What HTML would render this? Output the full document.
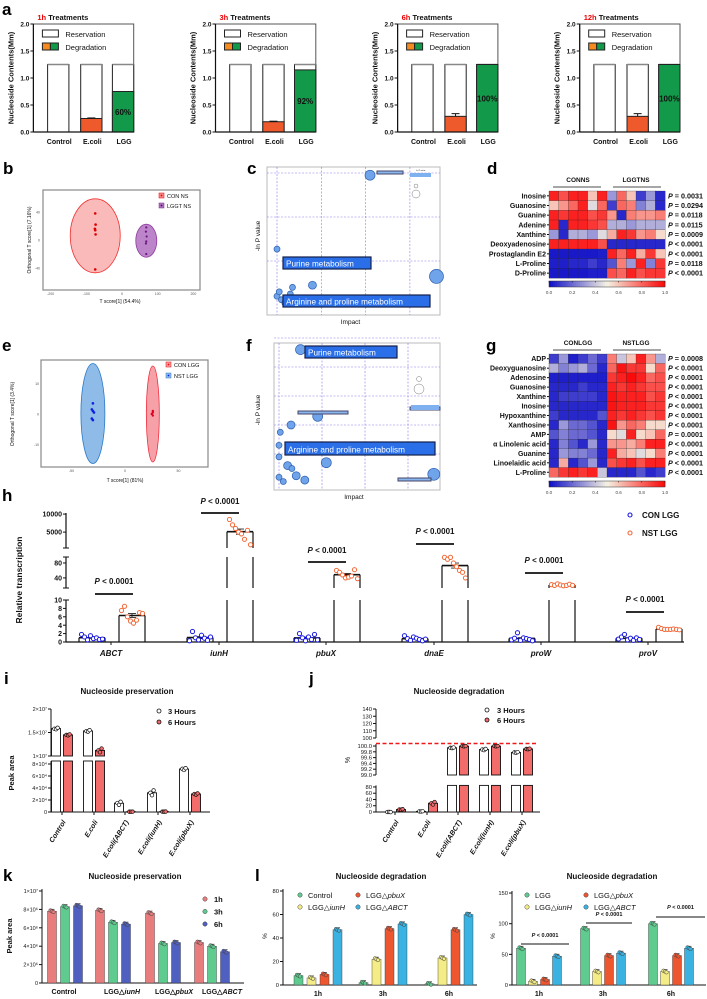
<!DOCTYPE html>
<html><head><meta charset="utf-8">
<style>
html,body{margin:0;padding:0;background:#fff;}
svg{display:block;font-family:"Liberation Sans Narrow","Liberation Sans",sans-serif;}
.pl{font-size:17px;font-weight:bold;font-family:"Liberation Sans",sans-serif;}
</style></head>
<body>
<svg id="fig" width="707" height="999" viewBox="0 0 707 999">
<rect width="707" height="999" fill="#fff"/>
<text class="pl" x="2" y="15">a</text>
<text class="pl" x="3" y="174">b</text>
<text class="pl" x="247" y="174">c</text>
<text class="pl" x="487" y="174">d</text>
<text class="pl" x="2" y="351">e</text>
<text class="pl" x="246" y="351">f</text>
<text class="pl" x="486" y="351">g</text>
<text class="pl" x="2" y="501">h</text>
<text class="pl" x="4" y="684">i</text>
<text class="pl" x="309" y="684">j</text>
<text class="pl" x="3" y="881">k</text>
<text class="pl" x="255" y="881">l</text>
</svg>
<script>
const NS='http://www.w3.org/2000/svg';
const svg=document.getElementById('fig');
function mk(tag,a,p){const e=document.createElementNS(NS,tag);for(const k in a)e.setAttribute(k,a[k]);(p||svg).appendChild(e);return e;}
function T(x,y,s,o){o=o||{};const t=mk('text',{x:x,y:y,'font-size':o.fs||7,'text-anchor':o.a||'start','font-weight':o.w||'bold',fill:o.f||'#111','font-style':o.i?'italic':'normal'});if(o.r)t.setAttribute('transform','rotate('+o.r+' '+x+' '+y+')');t.textContent=s;return t;}
function L(x1,y1,x2,y2,o){o=o||{};return mk('line',{x1:x1,y1:y1,x2:x2,y2:y2,stroke:o.c||'#111','stroke-width':o.w||1,'stroke-dasharray':o.d||'none'});}
function R(x,y,w,h,f,s,sw){return mk('rect',{x:x,y:y,width:w,height:h,fill:f,stroke:s||'none','stroke-width':sw||1});}
function C(x,y,r,f,s,sw){return mk('circle',{cx:x,cy:y,r:r,fill:f,stroke:s||'none','stroke-width':sw||1});}

/* ---------------- panel a ---------------- */
const aTimes=['1h','3h','6h','12h'];
const aEcoli=[0.25,0.19,0.29,0.29];
const aEcoliErr=[0.01,0.01,0.05,0.05];
const aLGG=[0.75,1.15,1.25,1.25];
const aPct=['60%','92%','100%','100%'];
const aTotal=[1.25,1.25,1.25,1.25];
const aTicks=[0,0.5,1,1.5,2];
const aGroups=['Control','E.coli','LGG'];
aTimes.forEach((tm,k)=>{
  const ox=44.4+182.1*k, y=v=>132-v*54, axx=ox-11;
  const bx=[ox+3.2,ox+36.3,ox+68];const bw=21.3;
  const tt=T(ox-7,20,'',{fs:7.5});
  
  
  const s1=mk('tspan',{fill:'#e00'},tt);s1.textContent=tm;const s2=mk('tspan',{},tt);s2.textContent=' Treatments';
  const yl=T(ox-31,78,'Nucleoside Contents(Mm)',{fs:7.5,a:'middle',r:-90});
  
  
  const fr=R(axx,24,bx[2]+bw-axx,108,'none','#555',1);
  
  
  aTicks.forEach(v=>{L(axx-3,y(v),axx,y(v));const t=T(axx-4,y(v)+2.5,v.toFixed(1),{fs:6.5,a:'end'});
    
    });
  bx.forEach((x,i)=>{
    const b=R(x,y(aTotal[k]),bw,y(0)-y(aTotal[k]),'#fff','#222',1);
    
    
    L(x,y(aTotal[k]),x+bw,y(aTotal[k]),{c:'#888',w:1.6});
    const t=T(x+bw/2+1,144,aGroups[i],{fs:7,a:'middle'});
    
    
  });
  const be=R(bx[1],y(aEcoli[k]),bw,y(0)-y(aEcoli[k]),'#ee5a2c','#222',1);
  
  
  L(bx[1]+bw/2,y(aEcoli[k]+aEcoliErr[k]),bx[1]+bw/2,y(aEcoli[k]));L(bx[1]+bw/2-4,y(aEcoli[k]+aEcoliErr[k]),bx[1]+bw/2+4,y(aEcoli[k]+aEcoliErr[k]));
  const bg=R(bx[2],y(aLGG[k]),bw,y(0)-y(aLGG[k]),'#13994a','#222',1);
  
  
  const pt=T(bx[2]+bw/2,y(aLGG[k]/2)+3,aPct[k],{fs:8,a:'middle'});
  
  
  L(axx,24,axx,132,{w:1.2});L(axx,132,bx[2]+bw,132,{w:1.2});
  const lr=R(ox-2,30,16,7,'#fff','#222',1);
  
  
  const lt=T(ox+21,37,'Reservation',{fs:7.5,w:'normal'});
  
  
  R(ox-2,43,8,7,'#f58a1f','#222',1);R(ox+6,43,8,7,'#13994a','#222',1);
  const ld=T(ox+21,50,'Degradation',{fs:7.5,w:'normal'});
  
  
});

/* ---------------- panels b & e (OPLS-DA) ---------------- */
const bRedOrth=[38,22,16,14,8,-42];
const bPurOrth=[18,12,5,-2,-5,-20];
const bRedT=[-75,-74,-76,-75,-74,-75];
const bPurT=[68,67,69,68,67,68];
(function(){
  const x=v=>122+v*0.357, y=v=>240-v*0.7;
  const box=R(43,190,157,100,'#fff','#888',1.2);
  
  
  const e1=mk('ellipse',{cx:x(-75),cy:y(6),rx:25,ry:37,fill:'#f9a9a9',stroke:'#f03030','stroke-width':0.8,'fill-opacity':0.8});
  
  
  const e2=mk('ellipse',{cx:x(68),cy:y(-1),rx:10.5,ry:16.5,fill:'#b070c0',stroke:'#903aa0','stroke-width':0.8,'fill-opacity':0.85});
  
  
  bRedOrth.forEach((v,i)=>{const p=C(x(bRedT[i]),y(v),1.3,'#e00000');
    
    });
  bPurOrth.forEach((v,i)=>{const p=C(x(bPurT[i]),y(v),1.1,'#6a1a80');
    
    });
  [-200,-100,0,100,200].forEach(v=>{T(x(v),295,String(v),{fs:3.5,w:'normal',a:'middle',f:'#555'});});
  [40,0,-40].forEach(v=>{T(40,y(v)+1.5,String(v),{fs:3.5,w:'normal',a:'end',f:'#555'});});
  R(159,193,5,5,'#f78a8a','#e00',0.5);C(161.5,195.5,0.9,'#e00');
  const l1=T(167,198,'CON NS',{fs:5.5,w:'normal'});
  
  
  R(159,203,5,5,'#b070c0','#7a2a90',0.5);C(161.5,205.5,0.9,'#4a0a60');
  const l2=T(167,208,'LGGT NS',{fs:5.5,w:'normal'});
  
  
  const xt=T(120,303,'T score[1] (54.4%)',{fs:5,w:'normal',a:'middle'});
  
  
  const yt=T(31,240,'Orthogonal T score[1] (7.16%)',{fs:5,w:'normal',a:'middle',r:-90});
  
  
})();
const eBlueOrth=[3.5,1.5,1,0.5,-1.5,-2];
const eRedOrth=[1,0.5,0,-0.5];
const eBlueT=[-30,-31,-30,-29,-31,-30];
const eRedT=[26,26,25,26];
(function(){
  const x=v=>125+v*1.07, y=v=>414-v*3.05;
  const box=R(41,360,167,107,'#fff','#888',1.2);
  
  
  const e1=mk('ellipse',{cx:x(-30),cy:413.5,rx:12,ry:50,fill:'#8ebbe8',stroke:'#2a7ac8','stroke-width':0.8});
  
  
  const e2=mk('ellipse',{cx:x(26),cy:414,rx:6.5,ry:48,fill:'#f6a0a8',stroke:'#f03040','stroke-width':0.8});
  
  
  eBlueOrth.forEach((v,i)=>{const p=C(x(eBlueT[i]),y(v),1.3,'#1020e0');
    
    });
  eRedOrth.forEach((v,i)=>{const p=C(x(eRedT[i]),y(v),1.2,'#e00020');
    
    });
  [-50,0,50].forEach(v=>{T(x(v),472,String(v),{fs:3.5,w:'normal',a:'middle',f:'#555'});});
  [10,0,-10].forEach(v=>{T(39,y(v)+1.5,String(v),{fs:3.5,w:'normal',a:'end',f:'#555'});});
  R(166,362,5,5,'#f6a0a8','#e00',0.5);C(168.5,364.5,0.9,'#e00');
  const l1=T(174,367,'CON LGG',{fs:5.5,w:'normal'});
  
  
  R(166,373,5,5,'#8ebbe8','#2a7ac8',0.5);C(168.5,375.5,0.9,'#1020e0');
  const l2=T(174,378,'NST LGG',{fs:5.5,w:'normal'});
  
  
  const xt=T(125,482,'T score[1] (81%)',{fs:5,w:'normal',a:'middle'});
  
  
  const yt=T(14,414,'Orthogonal T score[1] (3.4%)',{fs:5,w:'normal',a:'middle',r:-90});
  
  
})();

/* ---------------- panels c & f (pathway bubbles) ---------------- */
const cImpact=[0.21,0.0,0.08,0.035,0.36,0.0,0.01,0.02,0.04,0.18,0.005,0.03];
const cLnP=[2.95,1.27,0.45,0.4,0.65,0.2,0.12,0.05,0.02,0.05,0.3,0.25];
const cSize=[5,3,4,3,7,3,3,4,3,3,3,3];
const fImpact=[0.05,0.09,0.028,0.003,0.36,0.11,0.0,0.0,0.02,0.04,0.06,0.03,0.0,0.01];
const fLnP=[4.6,2.3,2.0,1.75,0.3,0.7,1.3,0.9,0.6,0.25,0.1,0.5,0.2,0.05];
const fSize=[5,5,4,3,6,5,3,3,4,4,4,3,3,3];
function bubblePanel(bx,by,bw,bh,gx,gy,x,y,imp,lnp,sz,name,labels,ylabY){
  const box=R(bx,by,bw,bh,'#fff','#bbb',1);
  
  
  gx.forEach(v=>L(x(v),by,x(v),by+bh,{c:'#8a7ae8',w:0.6,d:'2,1.5'}));
  gy.forEach(v=>L(bx,y(v),bx+bw,y(v),{c:'#8a7ae8',w:0.6,d:'2,1.5'}));
  imp.forEach((v,i)=>{const b=C(x(v),y(lnp[i]),sz[i],'#6fa3ea','#2e5fae',0.7);
    
    });
  labels.forEach(l=>{const r=R(l[0],l[1],l[2],l[3],'#2a6fe8','#14204a',1.2);
    
    
    const t=T(l[0]+3,l[1]+l[3]-2.5,l[4],{fs:8.2,w:'normal',f:'#fff'});
    
    });
  const xt=T(bx+bw/2-3,by+bh+9,'Impact',{fs:6.5,w:'normal',a:'middle'});
  
  
  const yt=T(260,ylabY,'-ln P value',{fs:6.5,w:'normal',a:'middle',r:-90});
  
  
}
(function(){
  const x=v=>277+v*443, y=v=>305-v*44;
  bubblePanel(267,167,173,148,[0,0.1,0.2,0.3],[1,2,3],x,y,cImpact,cLnP,cSize,'panel-c',
    [[283,257,88,12,'Purine metabolism'],[283,295,147,12,'Arginine and proline metabolism']],236);
  R(410,173,21,4,'#7fb0f0','none');T(416,171,'-ln P value',{fs:2,w:'normal'});
  C(416,186,2,'none','#555',0.4);C(416,194,4,'none','#555',0.4);
  R(377,171,26,3,'#8ab6f0','#446');
})();
(function(){
  const x=v=>279+v*430, y=v=>483-v*29;
  bubblePanel(274,343,166,147,[0,0.1,0.2,0.3],[1,2,3,4,5],x,y,fImpact,fLnP,fSize,'panel-f',
    [[305,346,92,12,'Purine metabolism'],[285,442,150,13,'Arginine and proline metabolism']],410);
  R(298,411,50,3,'#8ab6f0','#446');R(410,407,30,3,'#8ab6f0','#446');R(398,478,33,3,'#8ab6f0','#446');
  C(419,379,2.5,'none','#555',0.4);C(419,389,5,'none','#555',0.4);R(411,405,28,5,'#7fb0f0','none');
})();

/* ---------------- heatmaps d & g ---------------- */
const dRows=['Inosine','Guanosine','Guanine','Adenine','Xanthine','Deoxyadenosine','Prostaglandin E2','L-Proline','D-Proline'];
const dP=['P = 0.0031','P = 0.0294','P = 0.0118','P = 0.0115','P = 0.0009','P < 0.0001','P < 0.0001','P = 0.0118','P < 0.0001'];
const dVals=[
[.95,.85,.95,.95,.6,.95,.3,.8,.6,.1,.3,.05],
[.6,.7,.8,.95,.45,.8,.1,.8,.75,.25,.35,.05],
[.95,.9,.95,.95,.85,.9,.7,.05,.75,.7,.7,.75],
[.95,.05,.95,.95,.9,.85,.35,.35,.3,.35,.35,.35],
[.3,.05,.35,.35,.3,.45,.65,.95,.9,.7,.75,.55],
[.95,.95,.95,.95,.95,.85,.05,.05,.05,.05,.05,.05],
[.02,.02,.02,.02,.02,.03,.95,.8,.95,.65,.9,.6],
[.03,.03,.05,.05,.1,.05,.15,.75,.3,.95,.25,.9],
[.02,.02,.02,.02,.03,.03,.85,.8,.95,.85,.9,.9]];
const gRows=['ADP','Deoxyguanosine','Adenosine','Guanosine','Xanthine','Inosine','Hypoxanthine','Xanthosine','AMP','α Linolenic acid','Guanine','Linoelaidic acid','L-Proline'];
const gP=['P = 0.0008','P < 0.0001','P < 0.0001','P < 0.0001','P < 0.0001','P < 0.0001','P < 0.0001','P < 0.0001','P = 0.0001','P < 0.0001','P < 0.0001','P < 0.0001','P < 0.0001'];
const gVals=[
[.1,.3,.03,.1,.2,.1,.75,.4,.6,.95,.7,.35],
[.35,.25,.3,.35,.2,.05,.8,.98,.9,.9,.55,.8],
[.03,.03,.03,.03,.03,.03,.9,.95,1,.95,.8,.85],
[.05,.05,.05,.1,.05,.05,.95,.9,.95,.9,.85,.85],
[.05,.1,.1,.1,.1,.05,.98,.95,.95,.95,.85,.9],
[.05,.05,.05,.05,.05,.05,.98,.95,.95,.95,.9,.9],
[.1,.05,.05,.05,.05,.15,.95,.9,.95,.9,.85,.9],
[.05,.3,.2,.2,.15,.05,.98,.7,.8,.75,.55,.55],
[.15,.25,.2,.2,.15,.05,.55,.45,.95,.55,.6,.8],
[.05,.25,.15,.05,.3,.05,.7,.7,.65,.75,.95,.95],
[.05,.3,.25,.25,.2,.05,.95,.65,.6,.45,.55,.75],
[.05,.65,.05,.15,.3,.05,.85,.9,.95,.85,.95,.95],
[.8,.9,.95,.9,.95,.4,.05,.05,.05,.15,.05,.1]];
const cbTicks=[0,0.2,0.4,0.6,0.8,1.0];
function cmap(v){const a=[16,16,200],m=[246,242,226],b=[250,10,10];let c;
  if(v<0.5){const t=v/0.5;c=a.map((q,i)=>q+(m[i]-q)*t);}else{const t=(v-0.5)/0.5;c=m.map((q,i)=>q+(b[i]-q)*t);}
  return 'rgb('+c.map(Math.round).join(',')+')';}
function heatmap(x0,y0,w,h,rows,pv,vals,g1,g2,cby,name){
  const cw=w/12,rh=h/rows.length;
  vals.forEach((row,r)=>row.forEach((v,c)=>{const cell=R(x0+c*cw,y0+r*rh,cw+0.2,rh+0.2,cmap(v),'#222',0.25);
    
    }));
  rows.forEach((n,r)=>{const t=T(x0-3,y0+r*rh+rh/2+2.5,n,{fs:7,a:'end'});
    
    
    L(x0-2,y0+r*rh+rh/2,x0,y0+r*rh+rh/2);
    const p=T(x0+w+3,y0+r*rh+rh/2+2.5,'',{fs:7.2});
    
    
    const s=mk('tspan',{'font-style':'italic'},p);s.textContent='P';const s2=mk('tspan',{},p);s2.textContent=pv[r].slice(1);});
  L(x0+4,y0-4,x0+w/2-6,y0-4,{c:'#888',w:1.6});L(x0+w/2+6,y0-4,x0+w-4,y0-4,{c:'#888',w:1.6});
  const h1=T(x0+w/4,y0-9,g1,{fs:6.5,a:'middle'});
  
  
  const h2=T(x0+3*w/4,y0-9,g2,{fs:6.5,a:'middle'});
  
  
  for(let i=0;i<60;i++)R(x0+i*w/60,cby,w/60+0.3,6,cmap(i/59));
  R(x0,cby,w,6,'none','#333',0.5);
  cbTicks.forEach(v=>{L(x0+v*w,cby,x0+v*w,cby+1.5,{w:0.5});const t=T(x0+v*w,cby+13,v.toFixed(1),{fs:4.5,w:'normal',a:'middle',f:'#444'});
    
    });
}
heatmap(549,191,116,87,dRows,dP,dVals,'CONNS','LGGTNS',281,'heatmap-d');
heatmap(549,354,116,123,gRows,gP,gVals,'CONLGG','NSTLGG',481,'heatmap-g');

/* ---------------- panel h ---------------- */
const hGenes=['ABCT','iunH','pbuX','dnaE','proW','proV'];
const hCon=[[1.8,1.2,0.5,1.5,0.8,1.0,0.6,0.7],[0.3,2.5,1.0,0.5,1.6,0.9,0.4,1.2],[0.4,2.0,1.0,0.3,1.2,0.6,1.8,0.5],[1.5,0.8,0.4,1.2,0.9,0.6,0.3,0.7],[0.5,0.9,2.2,0.4,1.0,0.8,0.6,0.3],[0.7,1.2,1.8,0.5,0.9,0.4,1.0,0.6]];
const hNst=[[7.5,8.5,6.0,5.0,4.5,5.2,7.0,6.8],[8500,7000,6000,5000,4500,3000,5500,1500],[60,55,48,40,42,45,62,38],[95,90,95,80,70,60,55,40],[22,20,24,21,19,20,23,20],[3.5,3.2,3.0,3.0,3.0,3.1,3.0,2.9]];
const hSegs=[{lo:0,hi:10,yb:642,yt:600},{lo:13,hi:96,yb:588,yt:557},{lo:588,hi:10300,yb:548,yt:513}];
const hTicks=[[0,0],[2,0],[4,0],[6,0],[8,0],[10,0],[40,1],[80,1],[5000,2],[10000,2]];
function hSeg(v){for(const s of hSegs)if(v<=s.hi)return s;return hSegs[2];}
function hY(v){const s=hSeg(v);return s.yb-(v-s.lo)/(s.hi-s.lo)*(s.yb-s.yt);}
(function(){
  const ax=66;
  hSegs.forEach(s=>L(ax,s.yb,ax,s.yt,{w:1.2}));
  L(ax,642,684,642,{w:1.2});
  hTicks.forEach(t=>{const s=hSegs[t[1]];const yy=s.yb-(t[0]-s.lo)/(s.hi-s.lo)*(s.yb-s.yt);L(ax-3,yy,ax,yy);
    const tl=T(ax-4,yy+2.6,String(t[0]),{fs:7,a:'end'});
    
    });
  [548,557].forEach(y=>L(ax-3,y,ax+3,y,{w:1}));
  L(ax-3,600,ax+3,600);L(ax-3,588,ax+3,588);
  const yt=T(22,580,'Relative transcription',{fs:8.5,a:'middle',r:-90});
  
  
  const ticksX=[111,219,326,434,541,648];
  const pText=[584,504,553,534,563,602];
  const pLine=[594,513,562,544,573,612];
  function bar(cx,vals,col,name){
    const m=vals.reduce((a,b)=>a+b,0)/vals.length;
    hSegs.forEach(s=>{if(m>s.lo||s.lo===0){const top=Math.min(m,s.hi);const yt2=hY(top)<s.yt?s.yt:(m<=s.hi?hY(m):s.yt);
      const l1=L(cx-13,s.yb,cx-13,yt2,{w:1.2});
      L(cx+13,s.yb,cx+13,yt2,{w:1.2});
      if(m<=s.hi&&m>=s.lo)L(cx-13,hY(m),cx+13,hY(m),{w:1.6});}});
    const sd=Math.sqrt(vals.reduce((a,b)=>a+(b-m)*(b-m),0)/vals.length)/Math.sqrt(vals.length);
    L(cx,hY(m-sd),cx,hY(m+sd),{w:0.8});L(cx-4,hY(m+sd),cx+4,hY(m+sd),{w:0.8});L(cx-4,hY(m-sd),cx+4,hY(m-sd),{w:0.8});
    vals.forEach((v,i)=>{const p=C(cx-10.5+i*3,hY(v),2.1,'#fff',col,1);
      
      });
  }
  hGenes.forEach((g,i)=>{
    const tx=ticksX[i];
    L(tx,642,tx,645);
    const gl=T(tx,656,g,{fs:8,a:'middle',i:true});
    
    
    bar(tx-19,hCon[i],'#1a1ae0','con-lgg');
    bar(tx+21,hNst[i],'#f26a3a','nst-lgg');
    const lx=[114,220,327,435,544,645][i];
    const pl=L(lx-19,pLine[i],lx+19,pLine[i],{w:1.8});
    
    
    const pt=T(lx,pText[i],'',{fs:8,a:'middle'});
    
    
    const s=mk('tspan',{'font-style':'italic'},pt);s.textContent='P';const s2=mk('tspan',{},pt);s2.textContent=' < 0.0001';
  });
  C(630,515,2,'#fff','#1a1ae0',1.1);
  const l1=T(642,518,'CON LGG',{fs:8});
  
  
  C(630,533,2,'#fff','#f26a3a',1.1);
  const l2=T(642,536,'NST LGG',{fs:8});
  
  
})();

/* ---------------- panel i ---------------- */
const iGroups=['Control','E.coli','E.coli(ABCT)','E.coli(iunH)','E.coli(pbuX)'];
const i3h=[[1.58e7,1.57e7,1.6e7],[1.53e7,1.52e7,1.55e7],[1.5e4,1.2e4,1.7e4],[3.2e4,2.8e4,3.6e4],[7.2e4,7.0e4,7.3e4]];
const i6h=[[1.45e7,1.44e7,1.46e7],[1.12e7,1.08e7,1.16e7],[500,400,600],[600,500,700],[3.0e4,2.9e4,3.1e4]];
const iSegs=[{lo:0,hi:8.5e4,yb:812,yt:761},{lo:1e7,hi:2e7,yb:756,yt:709}];
const iTicks=[[0,'0',0],[2e4,'2×10⁴',0],[4e4,'4×10⁴',0],[6e4,'6×10⁴',0],[8e4,'8×10⁴',0],[1e7,'1×10⁷',1],[1.5e7,'1.5×10⁷',1],[2e7,'2×10⁷',1]];
const jGroups=iGroups;
const j3h=[[0,0.2,-0.2],[2,1.5,2.5],[99.94,99.93,99.95],[99.88,99.86,99.9],[99.78,99.77,99.79]];
const j6h=[[8,7,9],[28,24,32],[100,99.99,100],[100,99.99,100],[99.9,99.89,99.91]];
const jSegs=[{lo:0,hi:85,yb:812,yt:785.4},{lo:99,hi:100.07,yb:775,yt:744},{lo:100,hi:140,yb:738,yt:709}];
const jTicks=[[0,0],[20,0],[40,0],[60,0],[80,0],[99.0,1],[99.2,1],[99.4,1],[99.6,1],[99.8,1],[100.0,1],[100,2],[110,2],[120,2],[130,2],[140,2]];
function segY(segs,v,idx){const s=segs[idx];return s.yb-(v-s.lo)/(s.hi-s.lo)*(s.yb-s.yt);}
function brokenBars(segs,ax,axEnd,groups,d3,d6,centers,name,yOf){
  segs.forEach(s=>L(ax,s.yb,ax,s.yt,{w:1}));
  L(ax,812,axEnd,812,{w:1});
  groups.forEach((g,gi)=>{
    [[d3,-6,'#fff','3h'],[d6,6,'#f26c6c','6h']].forEach(q=>{
      const vals=q[0][gi];const m=vals.reduce((a,b)=>a+b,0)/3;const cx=centers[gi]+q[1];
      segs.forEach((s,si)=>{if(si===0||m>s.lo){const top=Math.min(m,s.hi);const y1=segY(segs,Math.max(top,s.lo),si);
        if(y1<s.yb-0.1){const b=R(cx-4.5,y1,9,s.yb-y1,q[2],'#111',0.9);
          
          }}});
      vals.forEach((v,k)=>{const p=C(cx-1.6+k*1.6,yOf(v),1.8,q[2],'#111',0.7);
        
        });
    });
    L(centers[gi],812,centers[gi],815);
    const t=T(centers[gi]+4,822,g,{fs:7,a:'end',r:-58,i:true});
    
    
  });
}
(function(){
  const yOf=v=>v<=8.5e4?segY(iSegs,v,0):segY(iSegs,v,1);
  brokenBars(iSegs,51,210,iGroups,i3h,i6h,[62,94,125,158,190],'panel-i',yOf);
  iTicks.forEach(t=>{const yy=segY(iSegs,t[0],t[2]);L(48,yy,51,yy);
    const tl=T(47,yy+2,t[1],{fs:5.5,a:'end',w:'normal'});
    
    });
  const tt=T(127,694,'Nucleoside preservation',{fs:8,a:'middle'});
  
  
  const yt=T(14,773,'Peak area',{fs:7.5,a:'middle',r:-90});
  
  
  C(159,711,2,'#fff','#111',0.8);
  const l1=T(168,714,'3 Hours',{fs:7.5});
  C(159,722,2,'#f26c6c','#111',0.8);
  const l2=T(168,725,'6 Hours',{fs:7.5});
})();
(function(){
  const yOf=v=>v<=85?segY(jSegs,v,0):(v<=100.07?segY(jSegs,v,1):segY(jSegs,v,2));
  brokenBars(jSegs.slice(0,2),376,540,jGroups,j3h,j6h,[395,427,458,490,522],'panel-j',yOf);
  L(376,738,376,709);
  jTicks.forEach(t=>{const yy=segY(jSegs,t[0],t[1]);L(373,yy,376,yy);
    const tl=T(372,yy+2,t[1]===1?t[0].toFixed(1):String(t[0]),{fs:5.8,a:'end',w:'normal'});
    
    });
  const dl=L(376,743.5,536,743.5,{c:'#f01818',w:1.6,d:'4,2.5'});
  
  
  const tt=T(459,694,'Nucleoside degradation',{fs:8,a:'middle'});
  
  
  const yt=T(350,760,'%',{fs:7,a:'middle',r:-90,w:'normal'});
  
  
  C(487,710,2,'#fff','#111',0.8);
  const l1=T(497,713,'3 Hours',{fs:7.5});
  C(487,720,2,'#f26c6c','#111',0.8);
  const l2=T(497,723,'6 Hours',{fs:7.5});
})();

/* ---------------- panel k ---------------- */
const kGroups=['Control','LGG△iunH','LGG△pbuX','LGG△ABCT'];
const kSeries=['1h','3h','6h'];
const k1h=[7.8e6,7.9e6,7.6e6,4.4e6];
const k3h=[8.3e6,6.6e6,4.3e6,4.0e6];
const k6h=[8.4e6,6.4e6,4.4e6,3.4e6];
const kTicks=[[0,'0'],[2e6,'2×10⁶'],[4e6,'4×10⁶'],[6e6,'6×10⁶'],[8e6,'8×10⁶'],[1e7,'1×10⁷']];
const kColors=['#e97c7c','#5fcb8f','#5060c0'];
function groupBars(ax,axEnd,yb,yt,yOf,centers,series,colors,spacing,name){
  L(ax,yt,ax,yb,{w:1});L(ax,yb,axEnd,yb,{w:1});
  series.forEach((arr,si)=>arr.forEach((v,gi)=>{
    const cx=centers[gi]+(si-(series.length-1)/2)*spacing;
    const b=R(cx-4.5,yOf(v),9,yb-yOf(v),colors[si],'#333',0.4);
    
    
    L(cx,yOf(v)-2,cx,yOf(v)+2,{w:0.6});L(cx-2.5,yOf(v)-2,cx+2.5,yOf(v)-2,{w:0.6});
    [-1.5,0,1.5].forEach((d,k)=>{const p=C(cx+d,yOf(v)+(k-1)*0.8,1.8,colors[si],'#444',0.5);
      
      });
  }));
}
function labelWithItalic(x,y,nm,fs){
  const t=T(x,y,'',{fs:fs,a:'middle'});
  const ix=nm.indexOf('△');
  if(ix<0){t.textContent=nm;}else{const a=mk('tspan',{},t);a.textContent=nm.slice(0,ix+1);const b=mk('tspan',{'font-style':'italic'},t);b.textContent=nm.slice(ix+1);}
  return t;
}
(function(){
  const yOf=v=>983-v*9.2e-6;
  groupBars(42,244,983,889,yOf,[65,113,163,212],[k1h,k3h,k6h],kColors,13,'panel-k');
  kTicks.forEach(t=>{L(39,yOf(t[0]),42,yOf(t[0]));const tl=T(38,yOf(t[0])+2,t[1],{fs:5.5,a:'end',w:'normal'});
    
    });
  [64,122,174,222].forEach((x,i)=>{const t=labelWithItalic(x,994,kGroups[i],7);
    
    });
  const tt=T(135,879,'Nucleoside preservation',{fs:8,a:'middle'});
  
  
  const yt=T(12,936,'Peak area',{fs:7.5,a:'middle',r:-90});
  
  
  kSeries.forEach((s,i)=>{C(205,899+i*12.5,2.2,kColors[i],'#444',0.5);
    const l=T(214,902+i*12.5,s,{fs:7.5});
    
    });
})();

/* ---------------- panel l ---------------- */
const lTimes=['1h','3h','6h'];
const lLeftNames=['Control','LGG△iunH','LGG△pbuX','LGG△ABCT'];
const lLeftCtrl=[8,2,1];
const lLeftIunH=[6,22,23];
const lLeftPbuX=[9,48,47];
const lLeftABCT=[47,52,60];
const lRightNames=['LGG','LGG△iunH','LGG△pbuX','LGG△ABCT'];
const lRightLGG=[60,92,100];
const lRightIunH=[6,22,22];
const lRightPbuX=[9,48,48];
const lRightABCT=[47,52,60];
const lColors=['#5fcb8f','#f4ec86','#ee5630','#3ab2e2'];
function legendL(x1,x2,y1,y2,names){
  [[x1,y1],[x1,y2],[x2,y1],[x2,y2]].forEach((p,i)=>{C(p[0],p[1],2.2,lColors[i],'#444',0.5);
    const t=T(p[0]+8,p[1]+2.8,'',{fs:7.5,w:'normal'});
    
    
    const nm=names[i];const ix=nm.indexOf('△');
    if(ix<0){t.textContent=nm;}else{const a=mk('tspan',{},t);a.textContent=nm.slice(0,ix+1);const b=mk('tspan',{'font-style':'italic'},t);b.textContent=nm.slice(ix+1);}});
}
(function(){
  const yOf=v=>985-v*1.175;
  groupBars(283,477,985,889,yOf,[318,383,449],[lLeftCtrl,lLeftIunH,lLeftPbuX,lLeftABCT],lColors,13,'panel-l-left');
  [0,20,40,60,80].forEach(v=>{L(280,yOf(v),283,yOf(v));const t=T(279,yOf(v)+2,String(v),{fs:5.8,a:'end',w:'normal'});
    
    });
  lTimes.forEach((s,i)=>{const t=T([318,383,449][i],996,s,{fs:7,a:'middle'});
    
    });
  const tt=T(381,879,'Nucleoside degradation',{fs:8,a:'middle'});
  
  
  const yt=T(267,936,'%',{fs:6.5,a:'middle',r:-90,w:'normal'});
  
  
  legendL(300,358,895,907,lLeftNames);
})();
(function(){
  const yOf=v=>985-v*0.613;
  groupBars(512,706,985,891,yOf,[539,603,671],[lRightLGG,lRightIunH,lRightPbuX,lRightABCT],lColors,12,'panel-l-right');
  [0,50,100,150].forEach(v=>{L(509,yOf(v),512,yOf(v));const t=T(508,yOf(v)+2,String(v),{fs:5.8,a:'end',w:'normal'});
    
    });
  lTimes.forEach((s,i)=>{const t=T([539,603,671][i],996,s,{fs:7,a:'middle'});
    
    });
  [[521,569,944,937],[586,632,923,916],[656,705,917,909]].forEach(p=>{
    const l=L(p[0],p[2],p[1],p[2],{w:0.9});
    
    
    const t=T((p[0]+p[1])/2,p[3],'',{fs:5.5,a:'middle'});
    
    
    const s=mk('tspan',{'font-style':'italic'},t);s.textContent='P';const s2=mk('tspan',{},t);s2.textContent=' < 0.0001';});
  const tt=T(612,879,'Nucleoside degradation',{fs:8,a:'middle'});
  
  
  const yt=T(495,936,'%',{fs:6.5,a:'middle',r:-90,w:'normal'});
  
  
  legendL(527,586,895,907,lRightNames);
})();
</script>
</body></html>
